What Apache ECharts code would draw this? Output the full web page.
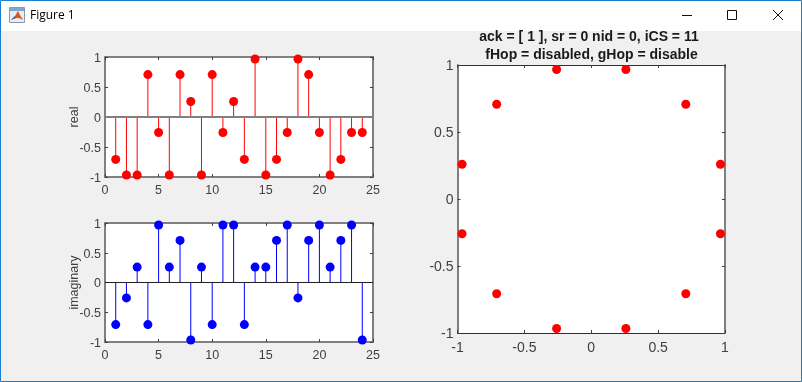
<!DOCTYPE html>
<html><head><meta charset="utf-8">
<style>html,body{margin:0;padding:0;background:#f0f0f0}#c{width:802px;height:382px}</style>
<script src="https://cdn.jsdelivr.net/npm/echarts@6/dist/echarts.min.js"></script>
</head><body><div id="c"></div>
<script>
const indices = [1,2,3,4,5,6,7,8,9,10,11,12,13,14,15,16,17,18,19,20,21,22,23,24];
const realValues = [-0.707,-0.966,-0.966,0.707,-0.259,-0.966,0.707,0.259,-0.966,0.707,-0.259,0.259,-0.707,0.966,-0.966,-0.707,-0.259,0.966,0.707,-0.259,-0.966,-0.707,-0.259,-0.259];
const imagValues = [-0.707,-0.259,0.259,-0.707,0.966,0.259,0.707,-0.966,0.259,-0.707,0.966,0.966,-0.707,0.259,0.259,0.707,0.966,-0.259,0.707,0.966,0.259,0.707,0.966,-0.966];
const constI = [0.259,0.707,0.966,0.966,0.707,0.259,-0.259,-0.707,-0.966,-0.966,-0.707,-0.259];
const constQ = [0.966,0.707,0.259,-0.259,-0.707,-0.966,-0.966,-0.707,-0.259,0.259,0.707,0.966];
const titleLines = ['ack = [ 1 ], sr = 0 nid = 0, iCS = 11','fHop = disabled, gHop = disable'];
const windowTitle = 'Figure 1';

const FONT = '"Liberation Sans", Arial, sans-serif';
const TXT = '#404040', BOX = '#808080';
const chart = echarts.init(document.getElementById('c'), null, {renderer:'canvas'});

function axis(type, gridIndex, min, max, interval, fontSize, lineColor, lineWidth, margin, extra){
  const show = !extra || !extra.hide;
  const label = {show,color:TXT,fontFamily:FONT,fontSize,margin,
    hideOverlap:false,showMinLabel:true,showMaxLabel:true};
  if (type==='y') { label.verticalAlign='top'; label.lineHeight=3; }
  return Object.assign({
    type:'value', gridIndex, min, max, interval,
    axisLine:{show:true,onZero:false,lineStyle:{color:lineColor,width:lineWidth}},
    axisTick:{show:true,inside:true,length:3,lineStyle:{color:'#404040',width:1}},
    splitLine:{show:false},
    axisLabel:label,
  }, extra||{});
}
const grids = [
  {left:105,top:57,width:268,height:120},
  {left:105,top:223,width:268,height:119},
  {left:457.5,top:65,width:267.5,height:268}
];
const xAxes = [], yAxes = [];
[[0,25,5,[-1,1,0.5],'real',12.5,BOX,2,BOX,2,7],[0,25,5,[-1,1,0.5],'imaginary',12.5,BOX,2,BOX,2,7],[-1,1,0.5,[-1,1,0.5],'',14,'#303030',1,BOX,2,8]].forEach((g,i)=>{
  xAxes.push(axis('x',i,g[0],g[1],g[2],g[5],g[6],g[7],g[10],{position:'bottom'}));
  xAxes.push(axis('x',i,g[0],g[1],g[2],g[5],g[6],g[7],g[10],{position:'top',hide:true}));
  yAxes.push(axis('y',i,g[3][0],g[3][1],g[3][2],g[5],g[8],g[9],4,{position:'left',
    name:g[4],nameLocation:'middle',nameGap:24,nameRotate:90,nameMoveOverlap:false,
    nameTextStyle:{color:TXT,fontFamily:FONT,fontSize:12.5}}));
  yAxes.push(axis('y',i,g[3][0],g[3][1],g[3][2],g[5],g[8],g[9],4,{position:'right',hide:true}));
});

function stems(vals,color,ax,baseColor,baseWidth){
  const pts = indices.map((x,i)=>[x,vals[i]]);
  return [
    {type:'custom',xAxisIndex:ax,yAxisIndex:ax,data:pts,silent:true,z:2,
      renderItem:(p,api)=>{
        const a=api.coord([api.value(0),0]), b=api.coord([api.value(0),api.value(1)]);
        return {type:'line',shape:{x1:a[0],y1:a[1],x2:a[0],y2:b[1]},style:{stroke:color,lineWidth:1}};
      }},
    {type:'line',xAxisIndex:ax,yAxisIndex:ax,data:[[0,0],[25,0]],showSymbol:false,symbol:'none',silent:true,z:3,
      lineStyle:{color:baseColor,width:baseWidth}},
    {type:'scatter',xAxisIndex:ax,yAxisIndex:ax,data:pts,symbol:'circle',symbolSize:9,silent:true,z:4,clip:false,
      itemStyle:{color,opacity:1}}
  ];
}

const graphic = [
  {type:'rect',shape:{x:0,y:0,width:802,height:382},style:{fill:'#f0f0f0'},z:-10,silent:true},
  {type:'rect',shape:{x:0,y:0,width:802,height:31},style:{fill:'#ffffff'},z:-9,silent:true},
  {type:'rect',shape:{x:0.5,y:0.5,width:801,height:381},style:{fill:'none',stroke:'#1b7fd0',lineWidth:1},z:100,silent:true},
  {type:'rect',shape:{x:9.5,y:7.5,width:15,height:15},style:{fill:'#e8edf2',stroke:'#8a97a5',lineWidth:1},z:5,silent:true},
  {type:'rect',shape:{x:10,y:8,width:14,height:3},style:{fill:'#7fa6cf'},z:6,silent:true},
  {type:'polygon',shape:{points:[[11,20],[15,16],[18,11],[20,15],[23,20],[19,18],[16,18]]},style:{fill:'#d9591c'},z:6,silent:true},
  {type:'polygon',shape:{points:[[11,20],[15,16],[16,18]]},style:{fill:'#2f6fb0'},z:7,silent:true},
  {type:'text',x:30,y:16,style:{text:windowTitle,font:'12px "Open Sans", sans-serif',fill:'#000',textVerticalAlign:'middle'},z:5,silent:true},
  {type:'line',shape:{x1:682,y1:15.5,x2:692,y2:15.5},style:{stroke:'#111',lineWidth:1},z:5,silent:true},
  {type:'rect',shape:{x:727.5,y:10.5,width:9,height:9},style:{fill:'none',stroke:'#111',lineWidth:1},z:5,silent:true},
  {type:'line',shape:{x1:773,y1:10,x2:783,y2:20},style:{stroke:'#111',lineWidth:1},z:5,silent:true},
  {type:'line',shape:{x1:783,y1:10,x2:773,y2:20},style:{stroke:'#111',lineWidth:1},z:5,silent:true},
  {type:'text',x:589,y:37,style:{text:titleLines[0],font:'bold 14px '+FONT,fill:'#1a1a1a',textAlign:'center',textVerticalAlign:'middle'},z:5,silent:true},
  {type:'text',x:591.5,y:55,style:{text:titleLines[1],font:'bold 14px '+FONT,fill:'#1a1a1a',textAlign:'center',textVerticalAlign:'middle'},z:5,silent:true}
];

chart.setOption({
  animation:false,
  backgroundColor:'#f0f0f0',
  grid:grids.map(g=>Object.assign({show:true,backgroundColor:'#fff',borderWidth:0,containLabel:false},g)),
  xAxis:xAxes, yAxis:yAxes,
  graphic:{elements:graphic},
  series:[
    ...stems(realValues,'#ff0000',0,BOX,2),
    ...stems(imagValues,'#0000ff',2,'#202020',1),
    {type:'scatter',xAxisIndex:4,yAxisIndex:4,data:constI.map((v,i)=>[v,constQ[i]]),symbol:'circle',symbolSize:9,silent:true,z:4,itemStyle:{color:'#ff0000',opacity:1}}
  ]
});
</script></body></html>
